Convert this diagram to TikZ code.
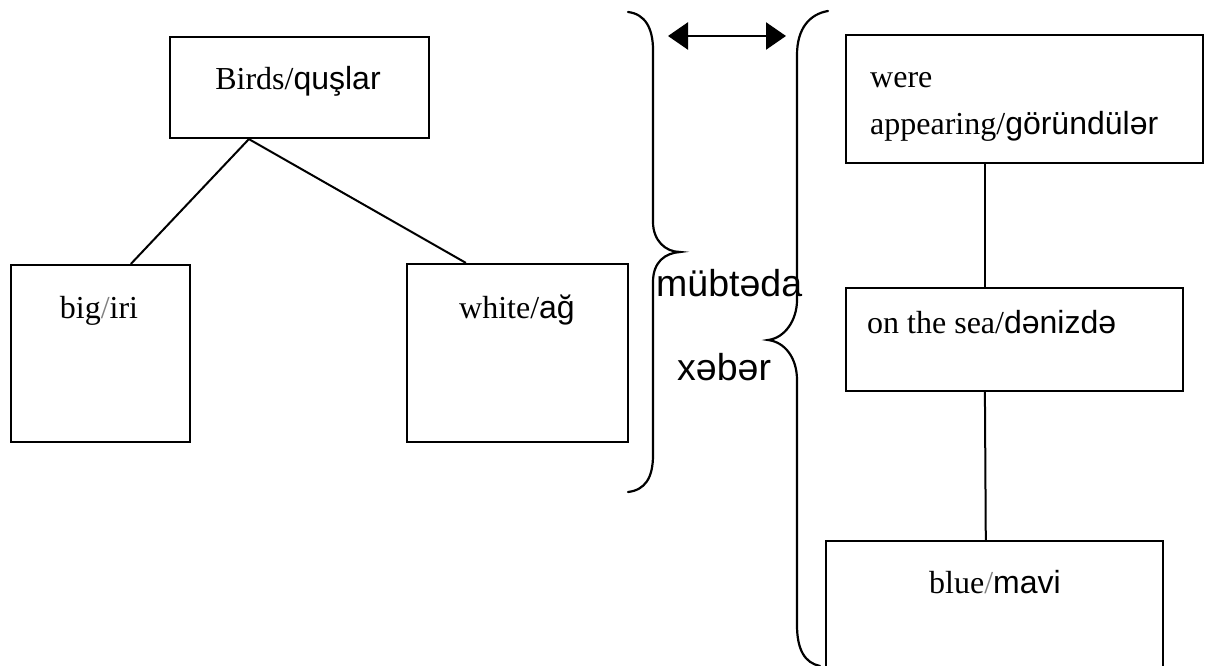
\documentclass[tikz,border=0pt]{standalone}
\usepackage{fontspec}
\setmainfont{Liberation Serif}
\newfontfamily\azfont{Liberation Sans}
\usetikzlibrary{arrows.meta}
\tikzset{
  box/.style={draw, line width=2.2pt, inner sep=0pt, rectangle},
  link/.style={line width=2pt},
  brace/.style={line width=2.2pt, line cap=round},
  lbl/.style={inner sep=0pt, anchor=base, font=\fontsize{32}{40}\selectfont},
  lblw/.style={inner sep=0pt, anchor=base west, font=\fontsize{32}{40}\selectfont},
  term/.style={inner sep=0pt, anchor=base west, font=\azfont\fontsize{37.5}{40}\selectfont},
}
\begin{document}
\begin{tikzpicture}[x=1pt,y=-1pt]
\useasboundingbox (0,0) rectangle (1210,666);

% left tree: subject group
\node[box, minimum width=259pt, minimum height=101pt] (birds) at (299.5,87.5) {};
\node[box, minimum width=179pt, minimum height=177pt] (big) at (100.5,353.5) {};
\node[box, minimum width=221pt, minimum height=178pt] (white) at (517.5,353) {};

\node[lbl] (birdsT) at (298,90) {Birds/{\azfont quşlar}};
\node[lbl] (bigT) at (99,318) {big{\color{gray}/}iri};
\node[lbl] (whiteT) at (517,318) {white/{\azfont ağ}};

\draw[link] ([xshift=80pt]birds.south west) -- ([xshift=121pt]big.north west);
\draw[link] ([xshift=80pt]birds.south west) -- ([xshift=60pt]white.north west);

% right chain: predicate group
\node[box, minimum width=357pt, minimum height=128pt] (were) at (1024.5,99) {};
\node[box, minimum width=337pt, minimum height=103pt] (sea) at (1014.5,339.5) {};
\node[inner sep=0pt, minimum width=337pt, minimum height=125pt] (blue) at (994.5,603.5) {};
\draw[line width=2.2pt] (blue.south west) -- (blue.north west) -- (blue.north east) -- (blue.south east);

\node[lblw] (wereT) at (870,88) {were};
\node[lblw] (appT) at (870,135) {appearing/{\azfont göründülər}};
\node[lblw] (seaT) at (867,333) {on the sea/{\azfont dənizdə}};
\node[lbl] (blueT) at (995,593) {blue{\color{gray}/}{\azfont mavi}};

\draw[link] ([xshift=140pt]were.south west) -- ([xshift=140pt]sea.north west);
\draw[link] ([xshift=140pt]sea.south west) -- ([xshift=160pt]blue.north west);

% braces
\draw[brace] (628,12) .. controls (645,14) and (653,28) .. (653,50)
  -- (653,222) .. controls (653,240) and (665,252) .. (680,252)
  .. controls (665,253) and (653,262) .. (653,282)
  -- (653,455) .. controls (653,478) and (645,490) .. (628,492);
\draw[brace] (828,11) .. controls (810,14) and (797,28) .. (797,55)
  -- (797,300) .. controls (797,320) and (785,338) .. (768,340)
  .. controls (785,342) and (797,358) .. (797,380)
  -- (797,625) .. controls (797,650) and (805,663) .. (820,666);

% relation arrow between the groups
\coordinate (al) at (668,36);
\coordinate (ar) at (786,36);
\draw[line width=2.5pt, {Triangle[length=20pt,width=27pt]}-{Triangle[length=20pt,width=27pt]}] (al) -- (ar);

\node[term] (subj) at (656,296) {mübtəda};
\node[term] (pred) at (677,380) {xəbər};
\end{tikzpicture}
\end{document}
